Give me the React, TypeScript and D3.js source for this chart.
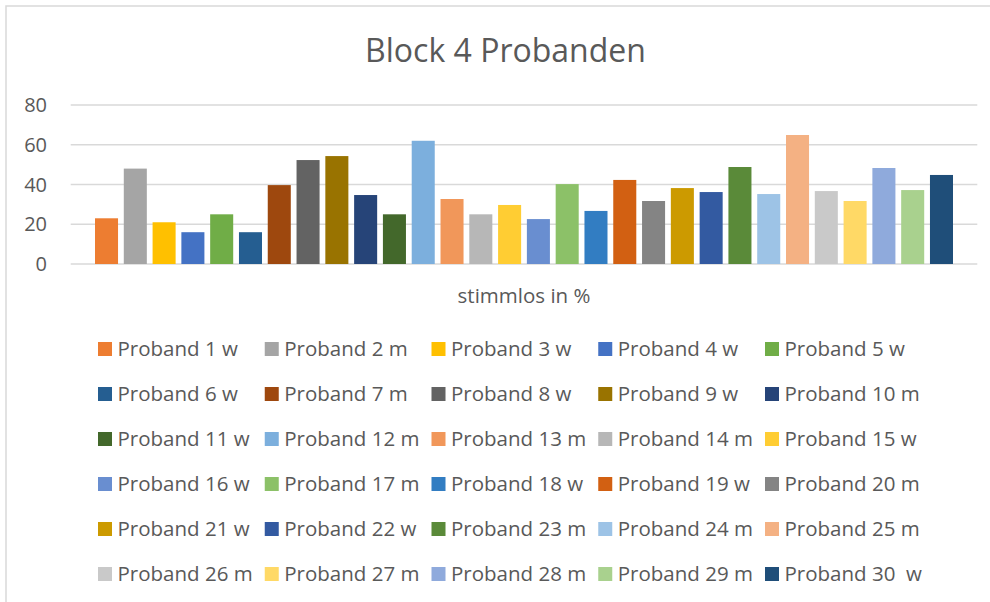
import React from "react";
import * as d3 from "d3";

const title = "Block 4 Probanden";
const axisLabel = "stimmlos in %";
const seriesNames = [
  "Proband 1 w", "Proband 2 m", "Proband 3 w", "Proband 4 w", "Proband 5 w",
  "Proband 6 w", "Proband 7 m", "Proband 8 w", "Proband 9 w", "Proband 10 m",
  "Proband 11 w", "Proband 12 m", "Proband 13 m", "Proband 14 m", "Proband 15 w",
  "Proband 16 w", "Proband 17 m", "Proband 18 w", "Proband 19 w", "Proband 20 m",
  "Proband 21 w", "Proband 22 w", "Proband 23 m", "Proband 24 m", "Proband 25 m",
  "Proband 26 m", "Proband 27 m", "Proband 28 m", "Proband 29 m", "Proband 30  w",
];
const values = [
  23, 48, 21, 16, 25, 16, 39.7, 52.3, 54.3, 34.7,
  25, 62, 32.7, 25, 29.7, 22.6, 40.2, 26.7, 42.3, 31.7,
  38.2, 36.2, 48.8, 35.2, 64.9, 36.7, 31.7, 48.3, 37.2, 44.8,
];
const colors = [
  "#ED7D31", "#A5A5A5", "#FFC000", "#4472C4", "#70AD47",
  "#255E91", "#9E480E", "#636363", "#997300", "#264478",
  "#43682B", "#7CAFDD", "#F1975A", "#B7B7B7", "#FFCD33",
  "#698ED0", "#8CC168", "#327DC2", "#D26012", "#848484",
  "#CC9A00", "#335AA1", "#5A8A39", "#9DC3E6", "#F4B183",
  "#C9C9C9", "#FFD966", "#8FAADC", "#A9D18E", "#1F4E79",
];
const yTicks = [0, 20, 40, 60, 80];

const W = 990;
const H = 602;
const FONT = "'Open Sans', sans-serif";
const TEXT = "#595959";
const GRID = "#d9d9d9";

export default function App() {
  const plotLeft = 70.7;
  const plotRight = 977.3;
  const y = d3.scaleLinear().domain([0, 80]).range([264, 105]);
  const x = d3
    .scaleBand<string>()
    .domain(seriesNames)
    .range([95, 953])
    .paddingInner(0.2)
    .paddingOuter(0);

  const legendCols = 5;
  const legendX = d3.scaleLinear().domain([0, legendCols - 1]).range([98, 765]);
  const legendY = d3.scaleLinear().domain([0, 5]).range([342, 567]);

  return (
    <svg
      width={W}
      height={H}
      style={{ position: "absolute", left: 0, top: 0, background: "#fff" }}
    >
      <rect x={0} y={0} width={W} height={H} fill="#fff" />
      <rect x={6} y={6} width={W + 20} height={H + 20} fill="none" stroke={GRID} strokeWidth={1.5} />
      <text
        x={505.5}
        y={61.5}
        textAnchor="middle"
        fontFamily={FONT}
        fontSize={32}
        fill={TEXT}
      >
        {title}
      </text>
      {yTicks.map((t) => (
        <g key={t}>
          <line
            x1={plotLeft}
            x2={plotRight}
            y1={y(t)}
            y2={y(t)}
            stroke={GRID}
            strokeWidth={1.4}
          />
          <text
            x={47}
            y={y(t)}
            dy="0.36em"
            textAnchor="end"
            fontFamily={FONT}
            fontSize={20}
            fill={TEXT}
          >
            {t}
          </text>
        </g>
      ))}
      {seriesNames.map((s, i) => (
        <rect
          key={s}
          x={x(s)}
          y={y(values[i])}
          width={x.bandwidth()}
          height={y(0) - y(values[i])}
          fill={colors[i]}
        />
      ))}
      <text
        x={(plotLeft + plotRight) / 2}
        y={303.3}
        textAnchor="middle"
        fontFamily={FONT}
        fontSize={20.5}
        fill={TEXT}
      >
        {axisLabel}
      </text>
      {seriesNames.map((s, i) => {
        const cx = legendX(i % legendCols);
        const cy = legendY(Math.floor(i / legendCols));
        return (
          <g key={"lg" + s}>
            <rect x={cx} y={cy} width={14} height={14} fill={colors[i]} />
            <text
              x={cx + 19.5}
              y={cy + 14}
              fontFamily={FONT}
              fontSize={20.5}
              fill={TEXT}
              style={{ whiteSpace: "pre" }}
            >
              {s}
            </text>
          </g>
        );
      })}
    </svg>
  );
}
